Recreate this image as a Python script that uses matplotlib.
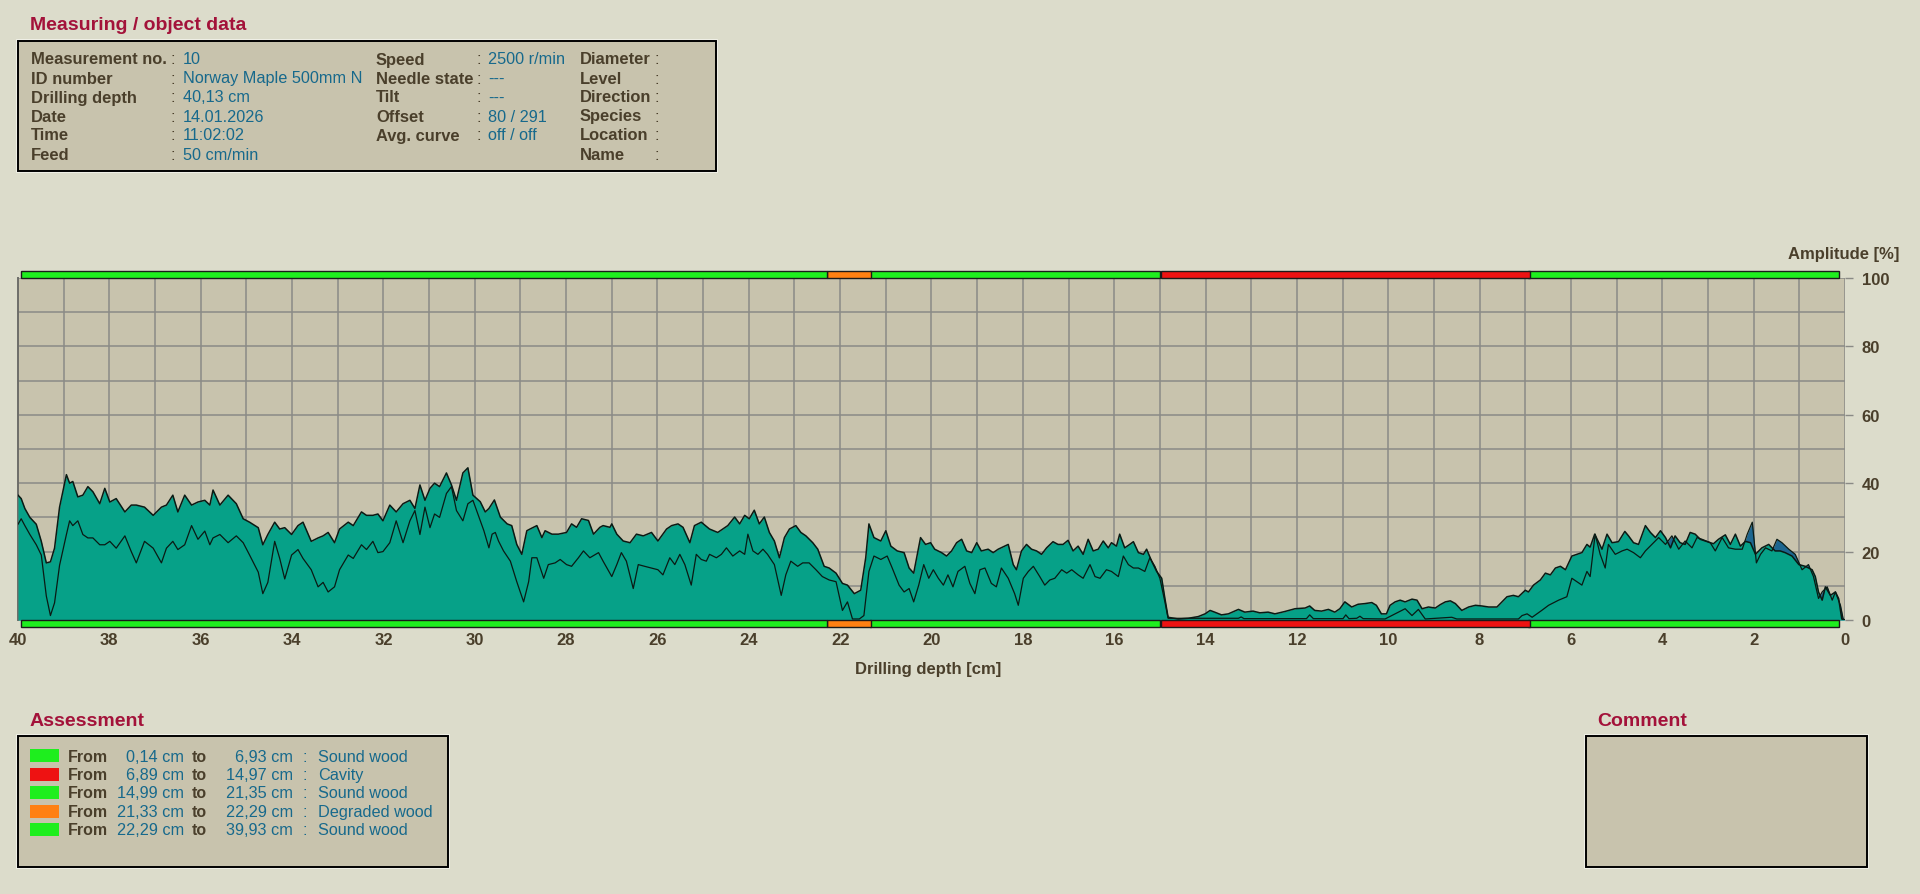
import matplotlib
matplotlib.use("Agg")
import matplotlib.pyplot as plt
from matplotlib.patches import Rectangle
from matplotlib.ticker import MultipleLocator
import matplotlib.transforms as mtransforms

plt.rcParams["font.family"] = ["Liberation Sans", "DejaVu Sans"]

# ---- data ----
depth_upper = [
    40.00, 39.93, 39.85, 39.74, 39.60, 39.49, 39.38, 39.29, 39.20, 39.09, 38.94, 38.87, 38.80, 38.69,
    38.58, 38.47, 38.36, 38.21, 38.10, 37.99, 37.85, 37.66, 37.52, 37.41, 37.23, 37.04, 36.86, 36.75,
    36.61, 36.50, 36.35, 36.20, 36.06, 35.91, 35.80, 35.73, 35.58, 35.40, 35.22, 35.07, 34.93, 34.74,
    34.64, 34.53, 34.38, 34.27, 34.16, 34.01, 33.87, 33.76, 33.58, 33.43, 33.32, 33.21, 33.07, 32.96,
    32.77, 32.66, 32.48, 32.37, 32.23, 32.12, 32.01, 31.86, 31.72, 31.57, 31.42, 31.31, 31.20, 31.09,
    30.98, 30.88, 30.77, 30.62, 30.51, 30.40, 30.26, 30.15, 30.04,
    29.88, 29.77, 29.69, 29.57, 29.44, 29.29, 29.19, 29.08, 28.97, 28.86, 28.79, 28.64, 28.53, 28.46,
    28.31, 28.17, 27.99, 27.88, 27.77, 27.66, 27.51, 27.40, 27.26, 27.19, 27.04, 27.00, 26.89, 26.75,
    26.60, 26.46, 26.31, 26.13, 25.99, 25.80, 25.69, 25.55, 25.44, 25.29, 25.19, 25.04, 24.86, 24.68,
    24.57, 24.46, 24.31, 24.20, 24.09, 23.99, 23.88, 23.77, 23.66, 23.55, 23.44, 23.33, 23.22, 23.11,
    22.97, 22.86, 22.75, 22.60, 22.49, 22.35, 22.24, 22.09, 21.95, 21.84, 21.69, 21.55, 21.44, 21.37,
    21.26, 21.11, 21.00, 20.89, 20.75, 20.60, 20.49, 20.39, 20.24, 20.13, 20.02,
    19.93, 19.78, 19.67, 19.56, 19.45, 19.34, 19.23, 19.12, 19.01, 18.91, 18.76, 18.65, 18.54, 18.32,
    18.21, 18.14, 18.03, 17.92, 17.81, 17.70, 17.59, 17.48, 17.34, 17.23, 17.12, 17.01, 16.90, 16.79,
    16.68, 16.57, 16.46, 16.35, 16.24, 16.13, 16.06, 15.95, 15.88, 15.77, 15.66, 15.58, 15.47, 15.36,
    15.29, 15.18, 15.07, 14.96, 14.89, 14.82, 14.60, 14.38, 14.16, 14.01, 13.90, 13.80, 13.65, 13.50,
    13.28, 13.14, 12.96, 12.81, 12.63, 12.48, 12.26, 12.04, 11.82, 11.72, 11.61, 11.46, 11.31, 11.17,
    11.06, 10.95, 10.80, 10.66, 10.51, 10.36, 10.26, 10.15, 10.04,
    9.96, 9.85, 9.74, 9.63, 9.48, 9.37, 9.26, 9.12, 8.97, 8.86, 8.75, 8.64, 8.53, 8.39, 8.24, 8.09,
    7.95, 7.80, 7.62, 7.51, 7.40, 7.26, 7.15, 7.00, 6.93, 6.82, 6.67, 6.56, 6.45, 6.34, 6.23, 6.12,
    5.98, 5.87, 5.76, 5.65, 5.58, 5.48, 5.39, 5.32, 5.21, 5.10, 4.96, 4.82, 4.74, 4.63, 4.52, 4.37,
    4.26, 4.15, 4.04, 3.93, 3.82, 3.72, 3.61, 3.50, 3.39, 3.28, 3.17, 3.06, 2.95, 2.88, 2.77, 2.62,
    2.51, 2.40, 2.29, 2.18, 2.07, 1.96, 1.82, 1.67, 1.53, 1.42, 1.31, 1.16, 1.01, 0.87, 0.72, 0.65,
    0.58, 0.50, 0.43, 0.32, 0.21, 0.14, 0.07, 0.00,
]
amp_upper = [
    36.5, 35.5, 32.6, 30.0, 28.0, 23.0, 16.7, 17.0, 21.0, 33.0, 42.5, 40.0, 40.5, 36.0,
    36.5, 39.0, 37.5, 34.0, 38.5, 34.5, 35.5, 31.6, 33.6, 33.6, 33.0, 30.6, 33.0, 33.6,
    36.5, 31.6, 36.5, 33.6, 34.5, 35.0, 33.6, 38.0, 33.6, 36.5, 34.0, 29.6, 28.6, 27.0,
    22.0, 25.0, 28.6, 26.6, 27.0, 25.0, 27.6, 28.6, 23.0, 24.0, 24.6, 25.6, 22.6, 26.6,
    28.6, 27.6, 31.6, 30.6, 30.6, 31.0, 29.0, 33.6, 31.6, 34.0, 35.0, 32.6, 39.5, 35.0,
    38.5, 40.0, 39.0, 43.0, 39.5, 35.0, 43.0, 44.5, 36.5,
    34.6, 31.6, 32.6, 35.1, 30.1, 28.1, 27.6, 22.1, 19.2, 26.1, 26.6, 27.6, 24.1, 26.1,
    25.1, 25.1, 25.6, 28.1, 27.1, 29.6, 29.1, 25.1, 27.1, 27.6, 27.1, 28.1, 25.1, 23.1,
    22.6, 25.1, 24.6, 25.6, 23.1, 26.6, 27.6, 28.1, 27.1, 22.6, 27.6, 28.6, 26.6, 25.6,
    26.6, 27.6, 30.1, 28.1, 30.6, 29.6, 32.1, 28.1, 30.1, 25.6, 23.1, 18.2, 24.1, 26.6,
    27.6, 25.6, 24.6, 22.6, 20.7, 15.7, 15.2, 13.7, 10.7, 10.2, 7.7, 8.7, 18.2, 28.1,
    24.1, 23.1, 26.1, 21.6, 20.2, 19.7, 15.2, 13.7, 24.1, 22.1, 22.6,
    20.7, 19.7, 18.7, 20.2, 22.6, 23.6, 20.2, 19.7, 22.6, 20.2, 20.7, 19.7, 20.7, 22.1,
    16.2, 14.7, 20.2, 22.1, 20.7, 20.2, 19.2, 21.1, 22.9, 22.1, 22.1, 23.3, 20.2, 21.6,
    19.2, 23.6, 20.2, 20.7, 23.1, 21.1, 22.6, 21.6, 25.1, 21.1, 22.1, 22.9, 19.7, 19.2,
    20.7, 17.2, 14.2, 12.2, 6.3, 0.8, 0.3, 0.5, 1.0, 1.8, 2.8, 2.3, 1.5, 1.8,
    3.1, 2.3, 2.6, 2.1, 2.3, 1.8, 2.5, 3.3, 3.5, 4.1, 2.8, 2.6, 3.1, 2.3,
    3.3, 5.3, 3.8, 4.6, 4.8, 5.1, 4.3, 1.8, 1.8,
    4.3, 5.3, 5.8, 5.3, 6.1, 5.8, 3.3, 3.8, 3.5, 4.5, 5.3, 5.6, 4.8, 2.8, 3.8, 4.3,
    4.1, 3.8, 3.8, 5.3, 6.8, 7.2, 6.8, 8.7, 8.2, 10.2, 11.7, 13.7, 13.2, 15.2, 15.7, 14.7,
    18.7, 19.2, 19.7, 22.1, 21.3, 25.1, 22.6, 20.7, 25.1, 22.6, 22.9, 25.9, 24.6, 22.6, 22.1, 27.6,
    25.6, 24.1, 26.1, 24.1, 21.1, 24.6, 22.6, 22.1, 25.6, 25.1, 23.6, 23.1, 22.6, 22.3, 23.6, 24.9,
    22.1, 25.1, 21.6, 23.0, 22.6, 19.2, 21.1, 22.1, 20.2, 20.2, 19.7, 18.7, 16.2, 15.7, 14.7, 12.7,
    8.2, 5.8, 9.7, 7.2, 8.2, 6.3, 0.3, 0.0,
]

depth_lower = [
    40.00, 39.93, 39.85, 39.74, 39.60, 39.49, 39.38, 39.29, 39.20, 39.09, 38.94, 38.87, 38.80, 38.69,
    38.58, 38.47, 38.36, 38.21, 38.10, 37.99, 37.85, 37.66, 37.52, 37.41, 37.23, 37.04, 36.86, 36.75,
    36.61, 36.50, 36.35, 36.20, 36.06, 35.91, 35.80, 35.73, 35.58, 35.40, 35.22, 35.07, 34.93, 34.74,
    34.64, 34.53, 34.38, 34.27, 34.16, 34.01, 33.87, 33.76, 33.58, 33.43, 33.32, 33.21, 33.07, 32.96,
    32.77, 32.66, 32.48, 32.37, 32.23, 32.12, 32.01, 31.86, 31.72, 31.57, 31.42, 31.31, 31.20, 31.09,
    30.98, 30.88, 30.77, 30.62, 30.51, 30.40, 30.26, 30.15, 30.04,
    29.80, 29.69, 29.62, 29.55, 29.48, 29.37, 29.22, 29.08, 28.93, 28.82, 28.75, 28.64, 28.49, 28.39,
    28.24, 28.13, 27.99, 27.88, 27.73, 27.62, 27.48, 27.29, 27.19, 27.00, 26.89, 26.79, 26.68, 26.53,
    26.42, 26.28, 26.13, 25.99, 25.88, 25.73, 25.62, 25.51, 25.40, 25.26, 25.15, 25.04, 24.93, 24.86,
    24.71, 24.60, 24.49, 24.35, 24.20, 24.09, 24.02, 23.91, 23.80, 23.69, 23.59, 23.44, 23.29, 23.19,
    23.08, 22.93, 22.82, 22.68, 22.53, 22.39, 22.24, 22.09, 21.95, 21.84, 21.73, 21.58, 21.48, 21.37,
    21.26, 21.11, 20.97, 20.86, 20.71, 20.60, 20.49, 20.39, 20.28, 20.17, 20.06,
    19.96, 19.85, 19.74, 19.64, 19.53, 19.42, 19.27, 19.16, 19.05, 18.94, 18.83, 18.69, 18.58, 18.47,
    18.32, 18.18, 18.10, 17.99, 17.88, 17.77, 17.63, 17.52, 17.41, 17.30, 17.15, 17.04, 16.93, 16.79,
    16.68, 16.53, 16.42, 16.31, 16.17, 16.06, 15.91, 15.80, 15.69, 15.58, 15.47, 15.33, 15.22, 15.11,
    15.00, 14.89, 14.82, 13.28, 13.22, 13.16, 11.79, 11.72, 11.64, 10.99, 10.93, 10.86, 10.69, 10.62,
    10.55, 10.07,
    9.63, 9.48, 9.34, 9.19, 8.61, 8.50, 7.15, 7.07, 6.96, 6.85, 6.64, 6.49, 6.27, 6.09, 5.98, 5.87,
    5.76, 5.65, 5.58, 5.47, 5.36, 5.25, 5.18, 5.03, 4.88, 4.77, 4.63, 4.48, 4.37, 4.23, 4.08, 3.93,
    3.79, 3.64, 3.50, 3.35, 3.24, 3.13, 2.95, 2.84, 2.69, 2.55, 2.40, 2.25, 2.14, 2.03, 1.94, 1.85,
    1.74, 1.60, 1.49, 1.38, 1.23, 1.09, 0.94, 0.80, 0.69, 0.58, 0.50, 0.39, 0.28, 0.21, 0.10, 0.04,
    0.00,
]
amp_lower = [
    28.0, 29.6, 27.6, 25.0, 22.0, 19.0, 7.0, 1.3, 5.0, 16.0, 25.0, 29.0, 27.6, 29.0,
    25.0, 24.0, 24.0, 22.0, 22.0, 23.0, 21.0, 24.6, 20.0, 16.7, 23.0, 21.0, 16.7, 21.0,
    23.0, 20.6, 22.0, 27.6, 23.6, 26.0, 22.0, 24.0, 25.0, 22.6, 24.6, 22.6, 19.0, 14.0,
    7.7, 11.0, 23.0, 18.0, 12.0, 19.0, 20.6, 18.0, 14.7, 9.7, 11.0, 8.2, 9.7, 14.7,
    19.0, 18.0, 22.0, 20.6, 23.0, 19.7, 20.0, 22.6, 29.0, 22.6, 29.0, 32.0, 25.0, 33.0,
    27.0, 31.0, 30.0, 37.0, 39.0, 32.0, 29.0, 34.0, 35.0,
    26.1, 21.1, 25.1, 25.6, 23.1, 20.2, 17.2, 11.2, 5.3, 11.2, 18.2, 18.2, 12.2, 16.2,
    16.7, 17.7, 16.2, 15.7, 18.2, 20.2, 18.2, 19.7, 17.2, 12.7, 16.2, 19.7, 17.2, 9.2,
    16.2, 15.7, 15.2, 14.7, 13.2, 18.2, 16.2, 19.2, 16.2, 10.2, 19.2, 17.7, 17.2, 19.2,
    18.2, 19.2, 21.1, 18.7, 20.2, 19.2, 25.1, 20.2, 19.2, 20.7, 19.2, 16.2, 7.2, 13.2,
    17.2, 15.7, 16.7, 16.7, 14.7, 12.7, 11.7, 11.2, 2.8, 5.3, 0.3, 0.3, 1.3, 14.2,
    18.7, 17.7, 18.7, 15.2, 10.2, 8.2, 9.2, 5.3, 10.2, 16.2, 12.2,
    14.7, 12.2, 10.2, 13.2, 9.7, 14.2, 15.7, 10.7, 7.7, 14.7, 15.2, 10.7, 9.7, 15.2,
    12.2, 7.7, 4.3, 12.2, 14.2, 15.7, 12.7, 10.2, 11.7, 12.2, 14.7, 13.7, 14.7, 13.2,
    12.2, 16.2, 12.7, 12.2, 14.7, 14.2, 12.7, 18.7, 16.2, 15.2, 15.2, 14.2, 18.2, 15.7,
    12.2, 5.3, 0.5, 0.5, 0.9, 0.4, 0.4, 1.5, 0.4, 0.4, 1.5, 0.4, 0.5, 1.1,
    0.4, 0.3,
    3.3, 1.3, 3.1, 0.3, 0.8, 0.3, 0.3, 1.3, 1.8, 0.8, 2.8, 4.3, 5.8, 6.8, 12.2, 11.2,
    10.2, 14.2, 12.7, 25.1, 19.2, 15.2, 22.1, 19.2, 20.2, 20.7, 19.7, 18.2, 20.2, 22.1, 24.1, 22.1,
    24.6, 20.7, 23.1, 21.1, 24.1, 23.6, 22.6, 20.2, 24.1, 21.1, 20.7, 20.7, 25.1, 28.6, 16.7, 19.2,
    21.1, 20.2, 23.6, 22.6, 20.7, 19.2, 14.7, 16.2, 12.7, 6.3, 8.2, 9.7, 5.8, 8.2, 4.3, 0.3,
    0.0,
]

x_ticks = list(range(0, 41, 2))
y_ticks = [0, 20, 40, 60, 80, 100]

info_labels_1 = ["Measurement no.", "ID number", "Drilling depth", "Date", "Time", "Feed"]
info_values_1 = ["10", "Norway Maple 500mm N", "40,13 cm", "14.01.2026", "11:02:02", "50 cm/min"]
info_labels_2 = ["Speed", "Needle state", "Tilt", "Offset", "Avg. curve"]
info_values_2 = ["2500 r/min", "---", "---", "80 / 291", "off / off"]
info_labels_3 = ["Diameter", "Level", "Direction", "Species", "Location", "Name"]

assess_from = [0.14, 6.89, 14.99, 21.33, 22.29]
assess_to = [6.93, 14.97, 21.35, 22.29, 39.93]
assess_class = ["Sound wood", "Cavity", "Sound wood", "Degraded wood", "Sound wood"]

# ---- style ----
W, H = 1920, 895
BG = "#DCDCCB"
PANEL = "#C8C3AD"
TEAL = "#06A188"
DARKBLUE = "#1D6690"
CRIMSON = "#A3123A"
LABEL_C = "#4A3F2B"
VALUE_C = "#17698C"
GRID_C = "#8A8A86"
class_colors = {"Sound wood": "#1EEE1E", "Cavity": "#EE1212", "Degraded wood": "#FF8012"}


def fx(px):
    return px / W


def fy(py):
    return 1 - py / H


fig = plt.figure(figsize=(W / 100, H / 100), dpi=100, facecolor=BG)


def panel(x0, y0, x1, y1):
    fig.patches.append(Rectangle((fx(x0 - 1), fy(y1 + 1)), fx(x1 - x0 + 2), (y1 - y0 + 2) / H,
                                 transform=fig.transFigure, facecolor="none",
                                 edgecolor="#F4F4EC", lw=1.2))
    fig.patches.append(Rectangle((fx(x0), fy(y1)), fx(x1 - x0), (y1 - y0) / H,
                                 transform=fig.transFigure, facecolor=PANEL,
                                 edgecolor="black", lw=1.4))


# ---- measuring / object data ----
fig.text(fx(30), fy(25), "Measuring / object data", color=CRIMSON, fontsize=14,
         fontweight="bold", va="center")
panel(18, 42, 716, 172)
row_y = [60, 79, 98, 117, 136, 155]
LAB_FS, VAL_FS = 11.9, 11.7
for i, (lab, val) in enumerate(zip(info_labels_1, info_values_1)):
    fig.text(fx(31), fy(row_y[i]), lab, color=LABEL_C, fontsize=LAB_FS, fontweight="bold", va="center")
    fig.text(fx(171), fy(row_y[i]), ":", color=LABEL_C, fontsize=LAB_FS, va="center")
    fig.text(fx(183), fy(row_y[i]), val, color=VALUE_C, fontsize=VAL_FS, va="center")
for i, (lab, val) in enumerate(zip(info_labels_2, info_values_2)):
    fig.text(fx(376), fy(row_y[i]), lab, color=LABEL_C, fontsize=LAB_FS, fontweight="bold", va="center")
    fig.text(fx(476), fy(row_y[i]), ":", color=LABEL_C, fontsize=LAB_FS, va="center")
    fig.text(fx(488), fy(row_y[i]), val, color=VALUE_C, fontsize=VAL_FS, va="center")
for i, lab in enumerate(info_labels_3):
    fig.text(fx(580), fy(row_y[i]), lab, color=LABEL_C, fontsize=LAB_FS, fontweight="bold", va="center")
    fig.text(fx(654), fy(row_y[i]), ":", color=LABEL_C, fontsize=LAB_FS, va="center")

# ---- main chart ----
ax_l, ax_r, ax_t, ax_b = 18, 1845, 279, 621
ax = fig.add_axes([fx(ax_l), fy(ax_b), fx(ax_r - ax_l), (ax_b - ax_t) / H])
ax.set_facecolor(PANEL)
ax.fill_between(depth_lower, amp_lower, color=DARKBLUE, lw=0, zorder=2)
ax.fill_between(depth_upper, amp_upper, color=TEAL, lw=0, zorder=3)
ax.plot(depth_upper, amp_upper, color="#0A1A14", lw=1.1, zorder=4)
ax.plot(depth_lower, amp_lower, color="#0A1A14", lw=0.9, zorder=4)
ax.set_xlim(40, 0)
ax.set_ylim(0, 100)
ax.set_xticks(x_ticks)
ax.xaxis.set_minor_locator(MultipleLocator(1))
ax.yaxis.set_minor_locator(MultipleLocator(10))
ax.set_yticks(y_ticks)
ax.grid(True, which="both", color=GRID_C, lw=1.1, zorder=1)
ax.set_axisbelow(True)
ax.yaxis.tick_right()
ax.tick_params(axis="x", which="both", length=0, pad=9, labelsize=12, labelcolor=LABEL_C)
ax.tick_params(axis="y", which="major", length=6, width=1, color=GRID_C, pad=6,
               labelsize=12, labelcolor=LABEL_C)
ax.tick_params(axis="y", which="minor", length=0)
for lbl in ax.get_xticklabels() + ax.get_yticklabels():
    lbl.set_fontweight("bold")
for side in ["top", "bottom", "right"]:
    ax.spines[side].set_visible(False)
ax.spines["left"].set_color("#6E6E6A")
ax.spines["left"].set_linewidth(1.4)

# assessment bars above and below the plot
blend = mtransforms.blended_transform_factory(ax.transData, ax.transAxes)
bar_h = 7 / (ax_b - ax_t)
for f, t, c in zip(assess_from, assess_to, assess_class):
    for y0 in (1.0, -bar_h):
        ax.add_patch(Rectangle((f, y0), t - f, bar_h, transform=blend, facecolor=class_colors[c],
                               edgecolor="#1A1A1A", lw=1.0, clip_on=False, zorder=5))

fig.text(fx(928), fy(670), "Drilling depth [cm]", color=LABEL_C, fontsize=12,
         fontweight="bold", ha="center", va="center")
fig.text(fx(1899), fy(254), "Amplitude [%]", color=LABEL_C, fontsize=12,
         fontweight="bold", ha="right", va="center")

# ---- assessment ----
fig.text(fx(30), fy(722), "Assessment", color=CRIMSON, fontsize=14, fontweight="bold", va="center")
panel(18, 737, 448, 868)
a_rows = [757, 776, 794, 813, 831]
for i, (f, t, c) in enumerate(zip(assess_from, assess_to, assess_class)):
    y = a_rows[i]
    fig.patches.append(Rectangle((fx(30), fy(y + 6)), fx(29), 13 / H, transform=fig.transFigure,
                                 facecolor=class_colors[c], edgecolor="none"))
    fig.text(fx(68), fy(y), "From", color=LABEL_C, fontsize=11.5, fontweight="bold", va="center")
    fig.text(fx(184), fy(y), f"{f:.2f} cm".replace(".", ","), color=VALUE_C, fontsize=11.7,
             ha="right", va="center")
    fig.text(fx(192), fy(y), "to", color=LABEL_C, fontsize=11.5, fontweight="bold", va="center")
    fig.text(fx(293), fy(y), f"{t:.2f} cm".replace(".", ","), color=VALUE_C, fontsize=11.7,
             ha="right", va="center")
    fig.text(fx(302), fy(y), ":", color=VALUE_C, fontsize=11.7, va="center")
    fig.text(fx(318), fy(y), c, color=VALUE_C, fontsize=11.7, va="center")

# ---- comment ----
fig.text(fx(1597), fy(722), "Comment", color=CRIMSON, fontsize=14, fontweight="bold", va="center")
panel(1586, 737, 1867, 868)

fig.savefig("out.png", dpi=100, facecolor=BG)
